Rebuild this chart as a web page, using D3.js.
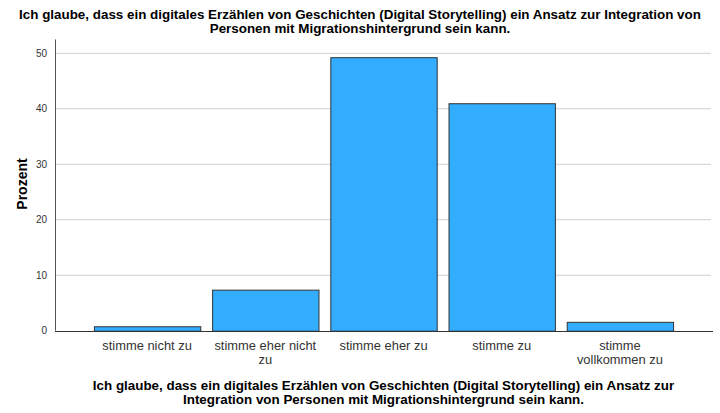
<!DOCTYPE html>
<html>
<head>
<meta charset="utf-8">
<script src="https://cdn.jsdelivr.net/npm/d3@7"></script>
<style>
  body { margin: 0; background: #fff; }
  text { font-family: "Liberation Sans", Arial, sans-serif; }
</style>
</head>
<body>
<div id="chart"></div>
<script>
// data
var categories = ["stimme nicht zu", "stimme eher nicht zu", "stimme eher zu", "stimme zu", "stimme vollkommen zu"];
var catLines = [["stimme nicht zu"], ["stimme eher nicht", "zu"], ["stimme eher zu"], ["stimme zu"], ["stimme", "vollkommen zu"]];
var percent = [0.8, 7.4, 49.3, 41.0, 1.6];
var yTicks = [0, 10, 20, 30, 40, 50];
var titleLines = ["Ich glaube, dass ein digitales Erzählen von Geschichten (Digital Storytelling) ein Ansatz zur Integration von",
  "Personen mit Migrationshintergrund sein kann."];
var xTitleLines = ["Ich glaube, dass ein digitales Erzählen von Geschichten (Digital Storytelling) ein Ansatz zur",
  "Integration von Personen mit Migrationshintergrund sein kann."];

var svgWidth = 720, svgHeight = 413;
var margin = {top: 53, right: 9, bottom: 82, left: 55};
var width = svgWidth - margin.left - margin.right;
var height = svgHeight - margin.top - margin.bottom;

var svg = d3.select("#chart").append("svg")
  .attr("width", svgWidth)
  .attr("height", svgHeight);

var chartGroup = svg.append("g")
  .attr("transform", `translate(${margin.left}, ${margin.top})`);

var x = d3.scaleBand()
  .domain(categories)
  .range([33, 624])
  .paddingInner(0.1)
  .paddingOuter(0.05);

var y = d3.scaleLinear()
  .domain([0, 50])
  .range([height - 0.3, 0.3]);

// gridlines
chartGroup.selectAll(".grid")
  .data(yTicks.filter(d => d > 0))
  .enter().append("line")
  .attr("x1", 0).attr("x2", width)
  .attr("y1", d => y(d)).attr("y2", d => y(d))
  .attr("stroke", "#cfcfcf")
  .attr("stroke-width", 1);

// y axis
var leftAxis = d3.axisLeft(y).tickValues(yTicks).tickSize(0).tickPadding(8);
var yAxisG = chartGroup.append("g").call(leftAxis);
yAxisG.select(".domain").attr("stroke", "#555").attr("d", `M0.5,${y(0)}V${y(52.5)}`);
yAxisG.selectAll("text").attr("font-size", 10).attr("fill", "#333")
  .attr("font-family", "Liberation Sans, Arial, sans-serif");

// bars
chartGroup.selectAll(".bar")
  .data(percent)
  .enter().append("rect")
  .attr("x", (d, i) => x(categories[i]) + 0.5)
  .attr("y", d => y(d) + 0.5)
  .attr("width", x.bandwidth())
  .attr("height", d => y(0) - y(d))
  .attr("fill", "#33adff")
  .attr("stroke", "#333")
  .attr("stroke-width", 1);

// x axis
var bottomAxis = d3.axisBottom(x).tickSize(0).tickFormat("");
var xAxisG = chartGroup.append("g")
  .attr("transform", `translate(0, ${height})`)
  .call(bottomAxis);
xAxisG.select(".domain").attr("stroke", "#333").attr("stroke-width", 1.2)
  .attr("d", `M0,0.5H${width + 2}`);

// category labels
categories.forEach(function(c, i) {
  var t = chartGroup.append("text")
    .attr("x", x(c) + x.bandwidth() / 2)
    .attr("y", height + 19)
    .attr("text-anchor", "middle")
    .attr("font-size", 12.9)
    .attr("fill", "#333");
  catLines[i].forEach(function(line, j) {
    t.append("tspan")
      .attr("x", x(c) + x.bandwidth() / 2)
      .attr("dy", j === 0 ? 0 : 14)
      .text(line);
  });
});

// title
titleLines.forEach(function(line, i) {
  svg.append("text")
    .attr("x", 360)
    .attr("y", 19 + i * 14)
    .attr("text-anchor", "middle")
    .attr("font-size", 13.4)
    .attr("font-weight", "bold")
    .attr("fill", "#000")
    .text(line);
});

// x title
xTitleLines.forEach(function(line, i) {
  svg.append("text")
    .attr("x", 383.5)
    .attr("y", 390 + i * 14)
    .attr("text-anchor", "middle")
    .attr("font-size", 13.4)
    .attr("font-weight", "bold")
    .attr("fill", "#000")
    .text(line);
});

// y title
svg.append("text")
  .attr("transform", "rotate(-90)")
  .attr("x", -184)
  .attr("y", 27)
  .attr("text-anchor", "middle")
  .attr("font-size", 14)
  .attr("font-weight", "bold")
  .attr("fill", "#000")
  .text("Prozent");
</script>
</body>
</html>
